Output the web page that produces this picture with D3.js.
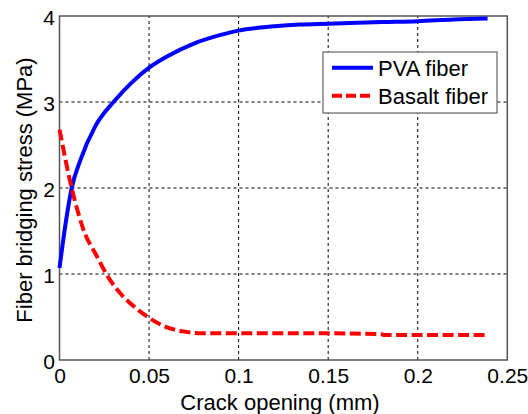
<!DOCTYPE html>
<html><head>
<meta charset="utf-8">
<style>
  body { margin: 0; background: #fff; }
  text { font-family: Arial, "Liberation Sans", sans-serif; }
</style>
</head>
<body>
<script src="https://d3js.org/d3.v7.min.js"></script>
<script>
// data
var pvaX = [0, 0.0035, 0.0068, 0.0114, 0.02, 0.031, 0.04, 0.05, 0.06, 0.075, 0.09, 0.1, 0.11, 0.12, 0.134, 0.15, 0.18, 0.2, 0.22, 0.239];
var pvaY = [1.07, 1.6, 2.0, 2.31, 2.72, 3.02, 3.22, 3.40, 3.53, 3.68, 3.78, 3.83, 3.86, 3.88, 3.90, 3.91, 3.93, 3.94, 3.96, 3.97];
var basX = [0, 0.0068, 0.0142, 0.02, 0.027, 0.035, 0.04, 0.05, 0.06, 0.07, 0.08, 0.1, 0.15, 0.18, 0.181, 0.239];
var basY = [2.68, 2.0, 1.47, 1.24, 0.97, 0.75, 0.65, 0.49, 0.38, 0.33, 0.31, 0.31, 0.31, 0.30, 0.29, 0.29];
var xTicks = [0, 0.05, 0.1, 0.15, 0.2, 0.25];
var yTicks = [0, 1, 2, 3, 4];
var seriesNames = ["PVA fiber", "Basalt fiber"];

var width = 528, height = 414;
var m = {left: 59.5, right: 20.7, top: 16, bottom: 54};

var svg = d3.select("body").append("svg")
    .attr("width", width).attr("height", height);

var x = d3.scaleLinear().domain([0, 0.25]).range([m.left, width - m.right]);
var y = d3.scaleLinear().domain([0, 4]).range([height - m.bottom, m.top]);

// grid
svg.append("g").selectAll("line").data(xTicks.slice(1, -1)).enter().append("line")
    .attr("x1", d => x(d)).attr("x2", d => x(d))
    .attr("y1", y(0)).attr("y2", y(4))
    .attr("stroke", "#000").attr("stroke-width", 1).attr("stroke-dasharray", "3,3");
svg.append("g").selectAll("line").data(yTicks.slice(1, -1)).enter().append("line")
    .attr("y1", d => y(d)).attr("y2", d => y(d))
    .attr("x1", x(0)).attr("x2", x(0.25))
    .attr("stroke", "#000").attr("stroke-width", 1).attr("stroke-dasharray", "3,3");

// box
svg.append("rect")
    .attr("x", x(0)).attr("y", y(4))
    .attr("width", x(0.25) - x(0)).attr("height", y(0) - y(4))
    .attr("fill", "none").attr("stroke", "#555").attr("stroke-width", 1.5);

// axes
var fmt = d3.format("~g");
var xAxis = svg.append("g").attr("transform", "translate(0," + y(0) + ")")
    .call(d3.axisBottom(x).tickValues(xTicks).tickSize(0).tickPadding(8).tickFormat(fmt));
var yAxis = svg.append("g").attr("transform", "translate(" + x(0) + ",0)")
    .call(d3.axisLeft(y).tickValues(yTicks).tickSize(0).tickPadding(4.5).tickFormat(fmt));
[xAxis, yAxis].forEach(function(a) {
  a.select(".domain").remove();
  a.selectAll("text").attr("font-size", 21).attr("fill", "#000")
    .attr("font-family", "Arial, 'Liberation Sans', sans-serif");
});
yAxis.selectAll("text").attr("dy", "0.42em");

// lines
var line = d3.line().x(d => x(d[0])).y(d => y(d[1])).curve(d3.curveMonotoneX);
svg.append("path").datum(d3.zip(pvaX, pvaY))
    .attr("d", line).attr("fill", "none")
    .attr("stroke", "#0000ff").attr("stroke-width", 4);
svg.append("path").datum(d3.zip(basX, basY))
    .attr("d", line).attr("fill", "none")
    .attr("stroke", "#ff0000").attr("stroke-width", 4)
    .attr("stroke-dasharray", "11,4.5");

// labels
svg.append("text").attr("x", 280).attr("y", 410)
    .attr("text-anchor", "middle").attr("font-size", 22)
    .text("Crack opening (mm)");
svg.append("text")
    .attr("transform", "translate(32,190) rotate(-90)")
    .attr("text-anchor", "middle").attr("font-size", 22)
    .text("Fiber bridging stress (MPa)");

// legend
var lg = svg.append("g");
lg.append("rect").attr("x", 323).attr("y", 52).attr("width", 174).attr("height", 61)
    .attr("fill", "#fff").attr("stroke", "#444").attr("stroke-width", 1);
var colors = ["#0000ff", "#ff0000"];
var dashes = [null, "10,4"];
seriesNames.forEach(function(n, i) {
  var yy = 67.7 + i * 28;
  lg.append("line").attr("x1", 332).attr("x2", 373).attr("y1", yy).attr("y2", yy)
    .attr("stroke", colors[i]).attr("stroke-width", 4)
    .attr("stroke-dasharray", dashes[i]);
  lg.append("text").attr("x", 378).attr("y", yy + 8)
    .attr("font-size", 22).text(n);
});
</script>
</body></html>
